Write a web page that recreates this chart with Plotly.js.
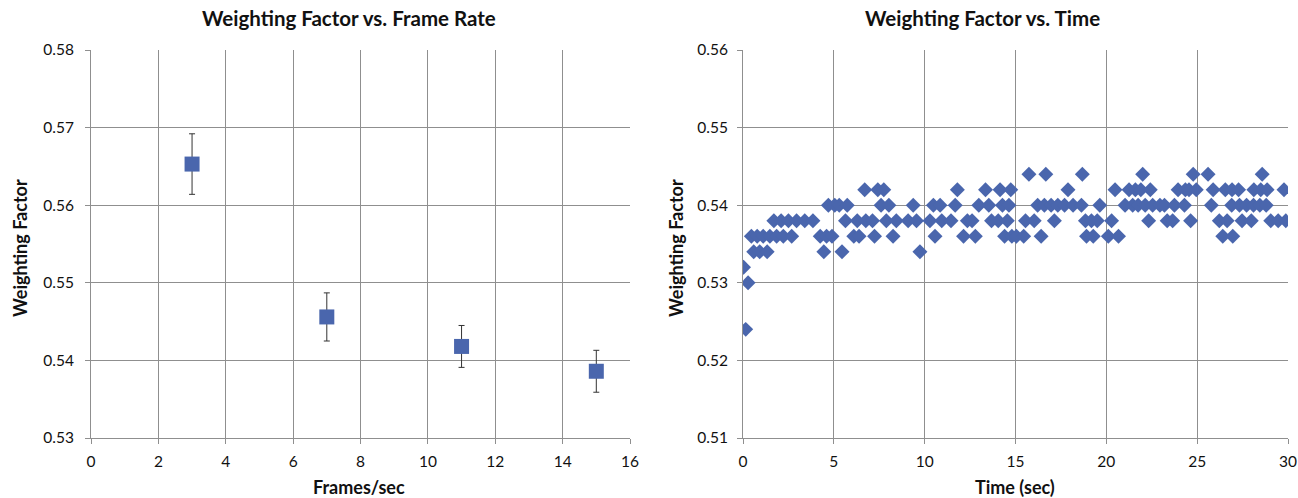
<!DOCTYPE html>
<html>
<head>
<meta charset="utf-8">
<script src="https://cdn.plot.ly/plotly-3.0.1.min.js"></script>
<style>html,body{margin:0;padding:0;background:#fff;}#chart{width:1298px;height:498px;}</style>
</head>
<body>
<div id="chart"></div>
<script>
// Left chart: weighting factor vs frame rate (mean ± error)
const frameRates = [3, 7, 11, 15];
const frameWeights = [0.5653, 0.5456, 0.5418, 0.5386];
const frameErrors = [0.0039, 0.0031, 0.0027, 0.0027];

// Right chart: weighting factor vs time
const times = [0.03,0.15,0.28,0.46,0.59,0.78,0.92,1.11,1.33,1.48,1.70,1.85,2.10,2.22,2.50,2.68,2.95,3.40,3.85,4.25,4.45,4.60,4.70,4.90,5.05,5.30,5.45,5.64,5.74,6.10,6.29,6.39,6.70,6.76,7.13,7.24,7.42,7.60,7.75,7.89,8.03,8.26,8.44,9.09,9.37,9.55,9.74,10.29,10.48,10.57,10.85,10.94,11.45,11.68,11.80,12.14,12.35,12.61,12.79,12.98,13.35,13.53,13.68,14.05,14.15,14.28,14.40,14.55,14.64,14.74,14.80,15.05,15.45,15.55,15.74,16.03,16.22,16.41,16.59,16.67,16.96,17.14,17.33,17.70,17.89,18.17,18.63,18.68,18.85,18.91,19.18,19.28,19.50,19.64,20.11,20.29,20.48,20.67,21.03,21.25,21.45,21.60,21.75,21.90,22.00,22.14,22.33,22.42,22.55,22.95,23.20,23.35,23.65,23.75,23.95,24.30,24.35,24.55,24.64,24.78,24.95,25.60,25.78,25.88,26.22,26.41,26.55,26.65,26.90,26.92,26.96,27.28,27.33,27.47,27.72,27.98,28.10,28.12,28.45,28.50,28.58,28.80,28.85,29.05,29.46,29.78,29.88];
const timeWeights = [0.532,0.524,0.530,0.536,0.534,0.536,0.534,0.536,0.534,0.536,0.538,0.536,0.538,0.536,0.538,0.536,0.538,0.538,0.538,0.536,0.534,0.536,0.540,0.536,0.540,0.540,0.534,0.538,0.540,0.536,0.538,0.536,0.542,0.538,0.538,0.536,0.542,0.540,0.542,0.538,0.540,0.536,0.538,0.538,0.540,0.538,0.534,0.538,0.540,0.536,0.540,0.538,0.538,0.540,0.542,0.536,0.538,0.538,0.536,0.540,0.542,0.540,0.538,0.538,0.542,0.540,0.536,0.538,0.540,0.542,0.536,0.536,0.536,0.538,0.544,0.538,0.540,0.536,0.540,0.544,0.540,0.538,0.540,0.540,0.542,0.540,0.540,0.544,0.538,0.536,0.538,0.536,0.538,0.540,0.536,0.538,0.542,0.536,0.540,0.542,0.540,0.542,0.540,0.542,0.544,0.540,0.538,0.542,0.540,0.540,0.540,0.538,0.538,0.540,0.542,0.540,0.542,0.542,0.538,0.544,0.542,0.544,0.540,0.542,0.538,0.536,0.542,0.538,0.540,0.542,0.536,0.542,0.540,0.538,0.540,0.538,0.540,0.542,0.540,0.542,0.544,0.540,0.542,0.538,0.538,0.542,0.538];

const leftTicks = [0, 2, 4, 6, 8, 10, 12, 14, 16];
const rightTicks = [0, 5, 10, 15, 20, 25, 30];
const leftYTicks = [0.53, 0.54, 0.55, 0.56, 0.57, 0.58];
const rightYTicks = [0.51, 0.52, 0.53, 0.54, 0.55, 0.56];

const W = 1298, H = 498;
const px = v => v / W;
const py = v => (H - v) / H;

const markerColor = '#4a66ad';
const gridColor = '#8f8f8f';
const fontFam = 'Lato, "Open Sans", Arial, sans-serif';

const axisCommon = {
  showgrid: true, gridcolor: gridColor, gridwidth: 1,
  showline: true, linecolor: gridColor, linewidth: 1,
  ticks: 'outside', ticklen: 5, tickcolor: gridColor, tickwidth: 1,
  zeroline: false, automargin: false, fixedrange: true,
  tickfont: {family: fontFam, size: 15.5, color: '#111'}
};

const data = [
  {
    x: frameRates, y: frameWeights, type: 'scatter', mode: 'markers',
    marker: {symbol: 'square', size: 15, color: markerColor},
    error_y: {type: 'data', array: frameErrors, visible: true, color: '#333', thickness: 1, width: 3},
    xaxis: 'x', yaxis: 'y', showlegend: false, hoverinfo: 'x+y'
  },
  {
    x: times, y: timeWeights, type: 'scatter', mode: 'markers',
    marker: {symbol: 'diamond', size: 11.5, color: markerColor},
    xaxis: 'x2', yaxis: 'y2', showlegend: false, hoverinfo: 'x+y'
  }
];

const layout = {
  width: W, height: H,
  margin: {l: 0, r: 0, t: 0, b: 0},
  paper_bgcolor: '#fff', plot_bgcolor: '#fff',
  font: {family: fontFam, color: '#111'},
  xaxis: Object.assign({}, axisCommon, {
    domain: [px(91), px(630)], range: [0, 16], tickvals: leftTicks, ticktext: leftTicks.map(String), anchor: 'y', ticklabelstandoff: 4
  }),
  yaxis: Object.assign({}, axisCommon, {
    domain: [py(438), py(50)], range: [0.53, 0.58], tickvals: leftYTicks, ticktext: leftYTicks.map(v => v.toFixed(2)), anchor: 'x', ticklabelstandoff: 8
  }),
  xaxis2: Object.assign({}, axisCommon, {
    domain: [px(743), px(1288)], range: [0, 30], tickvals: rightTicks, ticktext: rightTicks.map(String), anchor: 'y2', ticklabelstandoff: 4
  }),
  yaxis2: Object.assign({}, axisCommon, {
    domain: [py(438), py(50)], range: [0.51, 0.56], tickvals: rightYTicks, ticktext: rightYTicks.map(v => v.toFixed(2)), anchor: 'x2', ticklabelstandoff: 6
  }),
  annotations: [
    {text: '<b>Weighting Factor vs. Frame Rate</b>', x: px(349), y: py(18), xref: 'paper', yref: 'paper', showarrow: false, xanchor: 'center', yanchor: 'middle', font: {family: fontFam, size: 20.5, color: '#111'}},
    {text: '<b>Weighting Factor vs. Time</b>', x: px(982), y: py(18), xref: 'paper', yref: 'paper', showarrow: false, xanchor: 'center', yanchor: 'middle', font: {family: fontFam, size: 20.5, color: '#111'}},
    {text: '<b>Weighting Factor</b>', x: px(20), y: py(248), xref: 'paper', yref: 'paper', showarrow: false, textangle: -90, xanchor: 'center', yanchor: 'middle', font: {family: fontFam, size: 18, color: '#111'}},
    {text: '<b>Weighting Factor</b>', x: px(676), y: py(248), xref: 'paper', yref: 'paper', showarrow: false, textangle: -90, xanchor: 'center', yanchor: 'middle', font: {family: fontFam, size: 18, color: '#111'}},
    {text: '<b>Frames/sec</b>', x: px(359), y: py(487), xref: 'paper', yref: 'paper', showarrow: false, xanchor: 'center', yanchor: 'middle', font: {family: fontFam, size: 18, color: '#111'}},
    {text: '<b>Time (sec)</b>', x: px(1015), y: py(487), xref: 'paper', yref: 'paper', showarrow: false, xanchor: 'center', yanchor: 'middle', font: {family: fontFam, size: 18, color: '#111'}}
  ]
};

Plotly.newPlot('chart', data, layout, {displayModeBar: false, staticPlot: true});
</script>
</body>
</html>
